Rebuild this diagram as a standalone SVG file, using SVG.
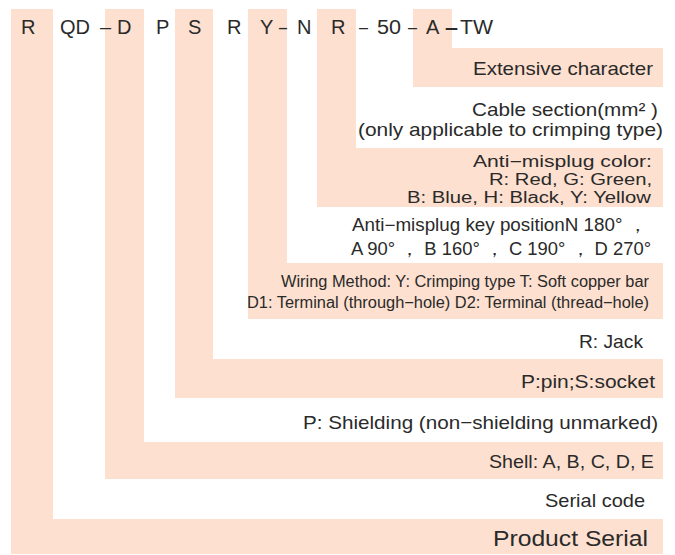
<svg xmlns="http://www.w3.org/2000/svg" width="675" height="555" viewBox="0 0 675 555">
<style>
.band{fill:#fde0cf;stroke:none}
text{font-family:"Liberation Sans",Arial,sans-serif;fill:#2a2a2a}
.code{font-size:20px}
.d{text-anchor:end}
.s18{font-size:18.5px}
.s16{font-size:16px}
.s17{font-size:17.5px}
.s22{font-size:22px}
</style>
<rect width="675" height="555" fill="#ffffff"/>
<g id="connectors">
<path class="band" d="M11 9H53V519H663V554H11Z"/>
<path class="band" d="M105 9H144V442H663V479H105Z"/>
<path class="band" d="M175 9H213V359H663V398H175Z"/>
<path class="band" d="M248 9H287V263H663V319H248Z"/>
<path class="band" d="M317 9H356V148H663V207H317Z"/>
<path class="band" d="M413 9H452V48H663V87H413Z"/>
</g>
<g id="code">
<text class="code" x="21" y="34">R</text>
<text class="code" x="60" y="34">QD</text>
<text class="code" x="100" y="34">–</text>
<text class="code" x="117" y="34">D</text>
<text class="code" x="156" y="34">P</text>
<text class="code" x="188" y="34">S</text>
<text class="code" x="227" y="34">R</text>
<text class="code" x="260" y="34">Y</text>
<text class="code" x="279" y="34" textLength="8" lengthAdjust="spacingAndGlyphs">–</text>
<text class="code" x="297" y="34">N</text>
<text class="code" x="331" y="34">R</text>
<text class="code" x="359" y="34" textLength="9" lengthAdjust="spacingAndGlyphs">–</text>
<text class="code" x="377" y="34" textLength="24" lengthAdjust="spacingAndGlyphs">50</text>
<text class="code" x="408" y="34" textLength="9" lengthAdjust="spacingAndGlyphs">–</text>
<text class="code" x="426" y="34">A</text>
<text class="code" x="445" y="34" textLength="13" lengthAdjust="spacingAndGlyphs" style="font-weight:bold">–</text>
<text class="code" x="460" y="34" textLength="33" lengthAdjust="spacingAndGlyphs">TW</text>
</g>
<g id="extensive">
<text class="d s18" x="653" y="75" textLength="180" lengthAdjust="spacingAndGlyphs">Extensive character</text>
</g>
<g id="cable-section">
<text class="d s18" x="658" y="116" textLength="186" lengthAdjust="spacingAndGlyphs">Cable section(mm² )</text>
<text class="d s18" x="663" y="136" textLength="305" lengthAdjust="spacingAndGlyphs">(only applicable to crimping type)</text>
</g>
<g id="color">
<text class="d s16" x="652" y="167" textLength="179" lengthAdjust="spacingAndGlyphs">Anti−misplug color:</text>
<text class="d s16" x="652" y="185" textLength="163" lengthAdjust="spacingAndGlyphs">R: Red, G: Green,</text>
<text class="d s16" x="651" y="203" textLength="244" lengthAdjust="spacingAndGlyphs">B: Blue, H: Black, Y: Yellow</text>
</g>
<g id="key-position">
<text class="d s17" x="647" y="231" textLength="295" lengthAdjust="spacingAndGlyphs">Anti−misplug key positionN 180° ，</text>
<text class="d s17" x="651" y="255" textLength="300" lengthAdjust="spacingAndGlyphs">A 90° ， B 160° ， C 190° ， D 270°</text>
</g>
<g id="wiring">
<text class="d s16" x="649" y="287" textLength="368" lengthAdjust="spacingAndGlyphs">Wiring Method: Y: Crimping type  T: Soft copper bar</text>
<text class="d s16" x="649" y="308" textLength="402" lengthAdjust="spacingAndGlyphs">D1: Terminal (through−hole) D2: Terminal (thread−hole)</text>
</g>
<g id="jack">
<text class="d s18" x="643" y="348" textLength="64" lengthAdjust="spacingAndGlyphs">R: Jack</text>
</g>
<g id="pin-socket">
<text class="d s18" x="655" y="388" textLength="134" lengthAdjust="spacingAndGlyphs">P:pin;S:socket</text>
</g>
<g id="shielding">
<text class="d s18" x="658" y="429" textLength="355" lengthAdjust="spacingAndGlyphs">P: Shielding (non−shielding unmarked)</text>
</g>
<g id="shell">
<text class="d s18" x="654" y="468" textLength="165" lengthAdjust="spacingAndGlyphs">Shell: A, B, C, D, E</text>
</g>
<g id="serial-code">
<text class="d s18" x="645" y="507" textLength="100" lengthAdjust="spacingAndGlyphs">Serial code</text>
</g>
<g id="product-serial">
<text class="d s22" x="648" y="546" textLength="155" lengthAdjust="spacingAndGlyphs">Product Serial</text>
</g>
</svg>
